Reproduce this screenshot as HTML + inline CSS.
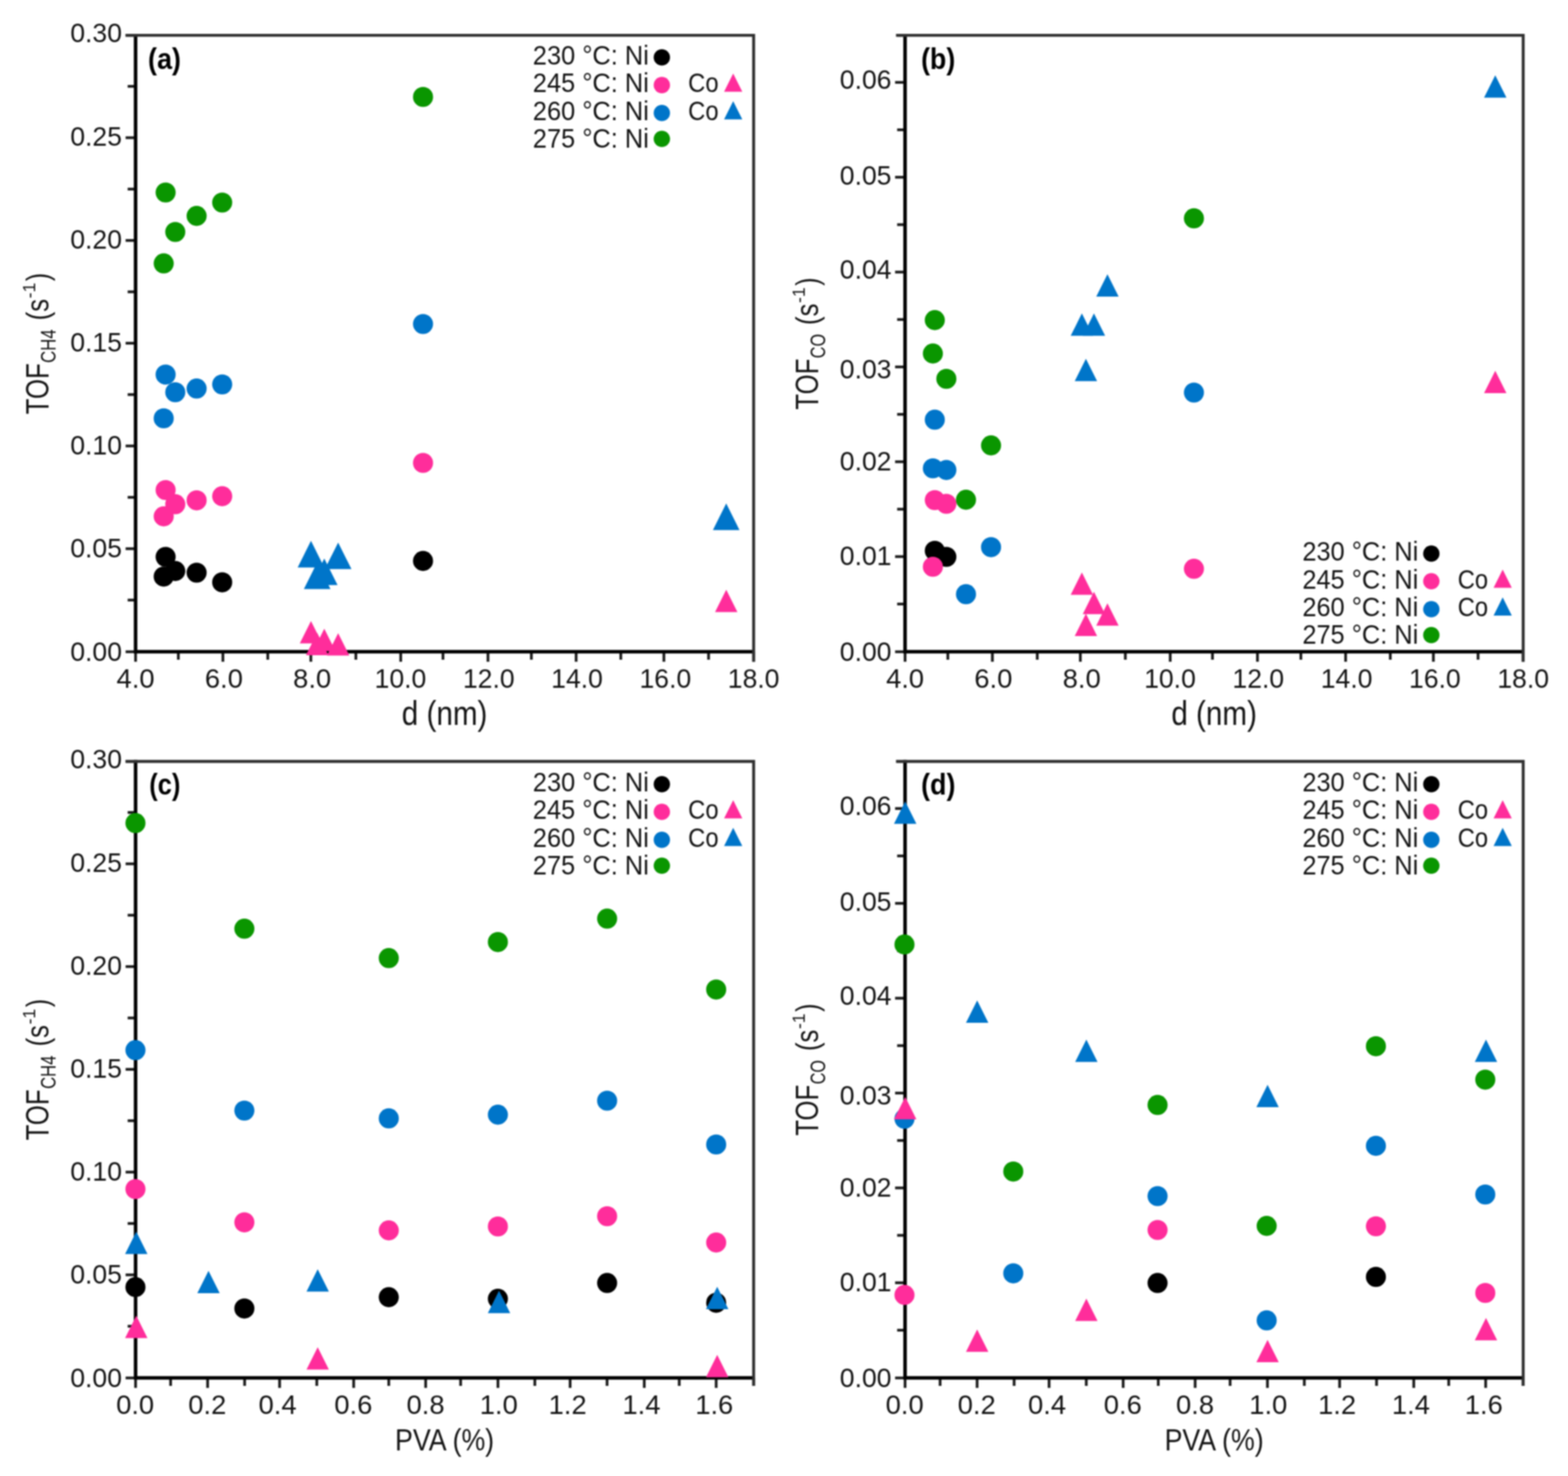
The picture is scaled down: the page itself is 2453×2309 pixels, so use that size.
<!DOCTYPE html>
<html lang="en">
<head>
<meta charset="utf-8">
<title>TOF vs particle size and PVA content</title>
<style>
html,body{margin:0;padding:0;background:#fff;}
body{width:2453px;height:2309px;overflow:hidden;}
svg{display:block;}
text{white-space:pre;}
</style>
</head>
<body>
<svg width="2453" height="2309" viewBox="0 0 2453 2309" font-family='"Liberation Sans", Arial, sans-serif' fill="#141414">
<rect width="2453" height="2309" fill="#fff"/>
<defs><filter id="soft" x="0" y="0" width="100%" height="100%" filterUnits="userSpaceOnUse" color-interpolation-filters="sRGB"><feGaussianBlur stdDeviation="0.9"/></filter></defs>
<g filter="url(#soft)">
<rect width="2453" height="2309" fill="#fff"/>
<g id="panel-a">
<g stroke="#1c1c1c" stroke-width="4.3" fill="none">
<line x1="212.1" y1="1019.6" x2="212.1" y2="1035.2"/>
<line x1="279" y1="1019.6" x2="279" y2="1032"/>
<line x1="348.7" y1="1019.6" x2="348.7" y2="1035.2"/>
<line x1="418.9" y1="1019.6" x2="418.9" y2="1032"/>
<line x1="486.3" y1="1019.6" x2="486.3" y2="1035.2"/>
<line x1="556.7" y1="1019.6" x2="556.7" y2="1032"/>
<line x1="626.9" y1="1019.6" x2="626.9" y2="1035.2"/>
<line x1="693" y1="1019.6" x2="693" y2="1032"/>
<line x1="763.4" y1="1019.6" x2="763.4" y2="1035.2"/>
<line x1="831.3" y1="1019.6" x2="831.3" y2="1032"/>
<line x1="901.3" y1="1019.6" x2="901.3" y2="1035.2"/>
<line x1="971.2" y1="1019.6" x2="971.2" y2="1032"/>
<line x1="1038.6" y1="1019.6" x2="1038.6" y2="1035.2"/>
<line x1="1108.5" y1="1019.6" x2="1108.5" y2="1032"/>
<line x1="1179" y1="1019.6" x2="1179" y2="1035.2"/>
<line x1="196.5" y1="1019.6" x2="212.1" y2="1019.6"/>
<line x1="199.7" y1="938.73" x2="212.1" y2="938.73"/>
<line x1="196.5" y1="858.37" x2="212.1" y2="858.37"/>
<line x1="199.7" y1="778" x2="212.1" y2="778"/>
<line x1="196.5" y1="697.63" x2="212.1" y2="697.63"/>
<line x1="199.7" y1="617.27" x2="212.1" y2="617.27"/>
<line x1="196.5" y1="536.9" x2="212.1" y2="536.9"/>
<line x1="199.7" y1="456.53" x2="212.1" y2="456.53"/>
<line x1="196.5" y1="376.17" x2="212.1" y2="376.17"/>
<line x1="199.7" y1="295.8" x2="212.1" y2="295.8"/>
<line x1="196.5" y1="215.43" x2="212.1" y2="215.43"/>
<line x1="199.7" y1="135.07" x2="212.1" y2="135.07"/>
<line x1="196.5" y1="55.2" x2="212.1" y2="55.2"/>
</g>
<path d="M212.1 52.9V1019.6H1179" stroke="#000" stroke-width="5.5" fill="none" stroke-linejoin="miter"/>
<path d="M196.5 55.2H1179V1035.2" stroke="#303030" stroke-width="4.6" fill="none" stroke-linejoin="miter"/>
<g class="tl">
<text x="212.1" y="1076.4" font-size="42.6" text-anchor="middle" textLength="59.5" lengthAdjust="spacingAndGlyphs">4.0</text>
<text x="350.23" y="1076.4" font-size="42.6" text-anchor="middle" textLength="59.5" lengthAdjust="spacingAndGlyphs">6.0</text>
<text x="488.36" y="1076.4" font-size="42.6" text-anchor="middle" textLength="59.5" lengthAdjust="spacingAndGlyphs">8.0</text>
<text x="626.49" y="1076.4" font-size="42.6" text-anchor="middle" textLength="80.8" lengthAdjust="spacingAndGlyphs">10.0</text>
<text x="764.61" y="1076.4" font-size="42.6" text-anchor="middle" textLength="80.8" lengthAdjust="spacingAndGlyphs">12.0</text>
<text x="902.74" y="1076.4" font-size="42.6" text-anchor="middle" textLength="80.8" lengthAdjust="spacingAndGlyphs">14.0</text>
<text x="1040.87" y="1076.4" font-size="42.6" text-anchor="middle" textLength="80.8" lengthAdjust="spacingAndGlyphs">16.0</text>
<text x="1179" y="1076.4" font-size="42.6" text-anchor="middle" textLength="80.8" lengthAdjust="spacingAndGlyphs">18.0</text>
<text x="190.8" y="1033.5" font-size="42.6" text-anchor="end" textLength="80.8" lengthAdjust="spacingAndGlyphs">0.00</text>
<text x="190.8" y="872.32" font-size="42.6" text-anchor="end" textLength="80.8" lengthAdjust="spacingAndGlyphs">0.05</text>
<text x="190.8" y="711.13" font-size="42.6" text-anchor="end" textLength="80.8" lengthAdjust="spacingAndGlyphs">0.10</text>
<text x="190.8" y="549.95" font-size="42.6" text-anchor="end" textLength="80.8" lengthAdjust="spacingAndGlyphs">0.15</text>
<text x="190.8" y="388.77" font-size="42.6" text-anchor="end" textLength="80.8" lengthAdjust="spacingAndGlyphs">0.20</text>
<text x="190.8" y="227.58" font-size="42.6" text-anchor="end" textLength="80.8" lengthAdjust="spacingAndGlyphs">0.25</text>
<text x="190.8" y="66.4" font-size="42.6" text-anchor="end" textLength="80.8" lengthAdjust="spacingAndGlyphs">0.30</text>
</g>
<text x="695.55" y="1133.6" font-size="53" text-anchor="middle" textLength="134" lengthAdjust="spacingAndGlyphs">d (nm)</text>
<g transform="translate(76.1 646.65) rotate(-90)">
<text font-size="50" text-anchor="start"><tspan x="-1.5" y="0" textLength="80" lengthAdjust="spacingAndGlyphs">TOF</tspan><tspan x="79" y="11.2" font-size="32.5" textLength="52.5" lengthAdjust="spacingAndGlyphs">CH4</tspan><tspan x="145.5" y="0" textLength="33.5" lengthAdjust="spacingAndGlyphs">(s</tspan><tspan x="180" y="-21.4" font-size="28.5" textLength="24.5" lengthAdjust="spacingAndGlyphs">-1</tspan><tspan x="207" y="0" textLength="13" lengthAdjust="spacingAndGlyphs">)</tspan></text>
</g>
<text x="231.6" y="107.5" font-size="45.5" text-anchor="start" font-weight="bold" textLength="51.5" lengthAdjust="spacingAndGlyphs" fill="#000">(a)</text>
<g class="pts">
<circle cx="661.8" cy="877.51" r="15.7" fill="#000000"/>
<circle cx="347.6" cy="910.94" r="15.7" fill="#000000"/>
<circle cx="274.2" cy="893.26" r="15.7" fill="#000000"/>
<circle cx="307.6" cy="895.84" r="15.7" fill="#000000"/>
<circle cx="259.1" cy="871.08" r="15.7" fill="#000000"/>
<circle cx="256.1" cy="901.94" r="15.7" fill="#000000"/>
<circle cx="661.8" cy="724.17" r="15.7" fill="#ff2d9b"/>
<circle cx="347.6" cy="776.25" r="15.7" fill="#ff2d9b"/>
<circle cx="274.2" cy="788.79" r="15.7" fill="#ff2d9b"/>
<circle cx="307.6" cy="782.68" r="15.7" fill="#ff2d9b"/>
<circle cx="259.1" cy="766.61" r="15.7" fill="#ff2d9b"/>
<circle cx="256.1" cy="807.75" r="15.7" fill="#ff2d9b"/>
<circle cx="661.8" cy="506.86" r="15.7" fill="#0075c9"/>
<circle cx="347.6" cy="601.37" r="15.7" fill="#0075c9"/>
<circle cx="274.2" cy="613.59" r="15.7" fill="#0075c9"/>
<circle cx="307.6" cy="607.8" r="15.7" fill="#0075c9"/>
<circle cx="259.1" cy="585.94" r="15.7" fill="#0075c9"/>
<circle cx="256.1" cy="654.41" r="15.7" fill="#0075c9"/>
<circle cx="661.8" cy="151.64" r="15.7" fill="#0a9600"/>
<circle cx="347.6" cy="316.87" r="15.7" fill="#0a9600"/>
<circle cx="274.2" cy="362.84" r="15.7" fill="#0a9600"/>
<circle cx="307.6" cy="337.77" r="15.7" fill="#0a9600"/>
<circle cx="259.1" cy="301.12" r="15.7" fill="#0a9600"/>
<circle cx="256.1" cy="412.03" r="15.7" fill="#0a9600"/>
<polygon points="1136.1,922.38 1153.6,957.38 1118.6,957.38" fill="#ff2d9b"/>
<polygon points="529,990.53 546.5,1025.53 511.5,1025.53" fill="#ff2d9b"/>
<polygon points="486.5,971.56 504,1006.56 469,1006.56" fill="#ff2d9b"/>
<polygon points="496.2,989.88 513.7,1024.88 478.7,1024.88" fill="#ff2d9b"/>
<polygon points="507.3,983.45 524.8,1018.45 489.8,1018.45" fill="#ff2d9b"/>
<polygon points="1136.1,787.6 1156.9,829.2 1115.3,829.2" fill="#0075c9"/>
<polygon points="529,848.68 549.8,890.28 508.2,890.28" fill="#0075c9"/>
<polygon points="486.5,846.1 507.3,887.7 465.7,887.7" fill="#0075c9"/>
<polygon points="496.2,879.86 517,921.46 475.4,921.46" fill="#0075c9"/>
<polygon points="507.3,873.75 528.1,915.35 486.5,915.35" fill="#0075c9"/>
</g>
<g class="lg">
<text x="833.6" y="101.1" font-size="43" text-anchor="start" textLength="181.5" lengthAdjust="spacingAndGlyphs">230 °C: Ni</text>
<circle cx="1035.4" cy="89.8" r="12.8" fill="#000000"/>
<text x="833.6" y="144.43" font-size="43" text-anchor="start" textLength="181.5" lengthAdjust="spacingAndGlyphs">245 °C: Ni</text>
<circle cx="1035.4" cy="133.1" r="12.8" fill="#ff2d9b"/>
<text x="1076.6" y="144.43" font-size="43" text-anchor="start" textLength="47.5" lengthAdjust="spacingAndGlyphs">Co</text>
<polygon points="1147,114.88 1161.25,143.38 1132.75,143.38" fill="#ff2d9b"/>
<text x="833.6" y="187.76" font-size="43" text-anchor="start" textLength="181.5" lengthAdjust="spacingAndGlyphs">260 °C: Ni</text>
<circle cx="1035.4" cy="176.8" r="12.8" fill="#0075c9"/>
<text x="1076.6" y="187.76" font-size="43" text-anchor="start" textLength="47.5" lengthAdjust="spacingAndGlyphs">Co</text>
<polygon points="1147,158.21 1161.25,186.71 1132.75,186.71" fill="#0075c9"/>
<text x="833.6" y="231.09" font-size="43" text-anchor="start" textLength="181.5" lengthAdjust="spacingAndGlyphs">275 °C: Ni</text>
<circle cx="1035.4" cy="217.3" r="12.8" fill="#0a9600"/>
</g>
</g>
<g id="panel-b">
<g stroke="#1c1c1c" stroke-width="4.3" fill="none">
<line x1="1415.9" y1="1019.6" x2="1415.9" y2="1035.2"/>
<line x1="1482.8" y1="1019.6" x2="1482.8" y2="1032"/>
<line x1="1552.5" y1="1019.6" x2="1552.5" y2="1035.2"/>
<line x1="1622.7" y1="1019.6" x2="1622.7" y2="1032"/>
<line x1="1690.1" y1="1019.6" x2="1690.1" y2="1035.2"/>
<line x1="1760.5" y1="1019.6" x2="1760.5" y2="1032"/>
<line x1="1830.7" y1="1019.6" x2="1830.7" y2="1035.2"/>
<line x1="1896.8" y1="1019.6" x2="1896.8" y2="1032"/>
<line x1="1967.2" y1="1019.6" x2="1967.2" y2="1035.2"/>
<line x1="2035.1" y1="1019.6" x2="2035.1" y2="1032"/>
<line x1="2105.1" y1="1019.6" x2="2105.1" y2="1035.2"/>
<line x1="2175" y1="1019.6" x2="2175" y2="1032"/>
<line x1="2242.4" y1="1019.6" x2="2242.4" y2="1035.2"/>
<line x1="2312.3" y1="1019.6" x2="2312.3" y2="1032"/>
<line x1="2382.8" y1="1019.6" x2="2382.8" y2="1035.2"/>
<line x1="1400.3" y1="1019.6" x2="1415.9" y2="1019.6"/>
<line x1="1403.5" y1="944.92" x2="1415.9" y2="944.92"/>
<line x1="1400.3" y1="870.73" x2="1415.9" y2="870.73"/>
<line x1="1403.5" y1="796.55" x2="1415.9" y2="796.55"/>
<line x1="1400.3" y1="722.36" x2="1415.9" y2="722.36"/>
<line x1="1403.5" y1="648.18" x2="1415.9" y2="648.18"/>
<line x1="1400.3" y1="573.99" x2="1415.9" y2="573.99"/>
<line x1="1403.5" y1="499.81" x2="1415.9" y2="499.81"/>
<line x1="1400.3" y1="425.62" x2="1415.9" y2="425.62"/>
<line x1="1403.5" y1="351.44" x2="1415.9" y2="351.44"/>
<line x1="1400.3" y1="277.25" x2="1415.9" y2="277.25"/>
<line x1="1403.5" y1="203.07" x2="1415.9" y2="203.07"/>
<line x1="1400.3" y1="128.88" x2="1415.9" y2="128.88"/>
<line x1="1403.5" y1="55.2" x2="1415.9" y2="55.2"/>
</g>
<path d="M1415.9 52.9V1019.6H2382.9" stroke="#000" stroke-width="5.5" fill="none" stroke-linejoin="miter"/>
<path d="M1401.7 55.2H2382.9V1035.2" stroke="#303030" stroke-width="4.6" fill="none" stroke-linejoin="miter"/>
<g class="tl">
<text x="1415.9" y="1076.4" font-size="42.6" text-anchor="middle" textLength="59.5" lengthAdjust="spacingAndGlyphs">4.0</text>
<text x="1554.04" y="1076.4" font-size="42.6" text-anchor="middle" textLength="59.5" lengthAdjust="spacingAndGlyphs">6.0</text>
<text x="1692.19" y="1076.4" font-size="42.6" text-anchor="middle" textLength="59.5" lengthAdjust="spacingAndGlyphs">8.0</text>
<text x="1830.33" y="1076.4" font-size="42.6" text-anchor="middle" textLength="80.8" lengthAdjust="spacingAndGlyphs">10.0</text>
<text x="1968.47" y="1076.4" font-size="42.6" text-anchor="middle" textLength="80.8" lengthAdjust="spacingAndGlyphs">12.0</text>
<text x="2106.61" y="1076.4" font-size="42.6" text-anchor="middle" textLength="80.8" lengthAdjust="spacingAndGlyphs">14.0</text>
<text x="2244.76" y="1076.4" font-size="42.6" text-anchor="middle" textLength="80.8" lengthAdjust="spacingAndGlyphs">16.0</text>
<text x="2382.9" y="1076.4" font-size="42.6" text-anchor="middle" textLength="80.8" lengthAdjust="spacingAndGlyphs">18.0</text>
<text x="1394.6" y="1033.6" font-size="42.6" text-anchor="end" textLength="80.8" lengthAdjust="spacingAndGlyphs">0.00</text>
<text x="1394.6" y="884.38" font-size="42.6" text-anchor="end" textLength="80.8" lengthAdjust="spacingAndGlyphs">0.01</text>
<text x="1394.6" y="736.46" font-size="42.6" text-anchor="end" textLength="80.8" lengthAdjust="spacingAndGlyphs">0.02</text>
<text x="1394.6" y="592.34" font-size="42.6" text-anchor="end" textLength="80.8" lengthAdjust="spacingAndGlyphs">0.03</text>
<text x="1394.6" y="436.12" font-size="42.6" text-anchor="end" textLength="80.8" lengthAdjust="spacingAndGlyphs">0.04</text>
<text x="1394.6" y="288.7" font-size="42.6" text-anchor="end" textLength="80.8" lengthAdjust="spacingAndGlyphs">0.05</text>
<text x="1394.6" y="139.28" font-size="42.6" text-anchor="end" textLength="80.8" lengthAdjust="spacingAndGlyphs">0.06</text>
</g>
<text x="1899.4" y="1133.6" font-size="53" text-anchor="middle" textLength="134" lengthAdjust="spacingAndGlyphs">d (nm)</text>
<g transform="translate(1279.9 639.4) rotate(-90)">
<text font-size="50" text-anchor="start"><tspan x="-1.5" y="0" textLength="80" lengthAdjust="spacingAndGlyphs">TOF</tspan><tspan x="79" y="11.2" font-size="32.5" textLength="38" lengthAdjust="spacingAndGlyphs">CO</tspan><tspan x="131" y="0" textLength="33.5" lengthAdjust="spacingAndGlyphs">(s</tspan><tspan x="165.5" y="-21.4" font-size="28.5" textLength="24.5" lengthAdjust="spacingAndGlyphs">-1</tspan><tspan x="192.5" y="0" textLength="13" lengthAdjust="spacingAndGlyphs">)</tspan></text>
</g>
<text x="1440.9" y="107.5" font-size="45.5" text-anchor="start" font-weight="bold" textLength="53.5" lengthAdjust="spacingAndGlyphs" fill="#000">(b)</text>
<g class="pts">
<circle cx="1480.5" cy="871.08" r="15.7" fill="#000000"/>
<circle cx="1462.4" cy="861.59" r="15.7" fill="#000000"/>
<circle cx="1867.8" cy="889.78" r="15.7" fill="#ff2d9b"/>
<circle cx="1480.5" cy="788.14" r="15.7" fill="#ff2d9b"/>
<circle cx="1462.4" cy="782.36" r="15.7" fill="#ff2d9b"/>
<circle cx="1459.4" cy="886.66" r="15.7" fill="#ff2d9b"/>
<circle cx="1867.8" cy="614.11" r="15.7" fill="#0075c9"/>
<circle cx="1550.4" cy="855.95" r="15.7" fill="#0075c9"/>
<circle cx="1480.5" cy="735.18" r="15.7" fill="#0075c9"/>
<circle cx="1511.2" cy="929.54" r="15.7" fill="#0075c9"/>
<circle cx="1462.4" cy="656.54" r="15.7" fill="#0075c9"/>
<circle cx="1459.4" cy="732.65" r="15.7" fill="#0075c9"/>
<circle cx="1867.8" cy="341.55" r="15.7" fill="#0a9600"/>
<circle cx="1550.4" cy="696.75" r="15.7" fill="#0a9600"/>
<circle cx="1480.5" cy="592.59" r="15.7" fill="#0a9600"/>
<circle cx="1511.2" cy="781.76" r="15.7" fill="#0a9600"/>
<circle cx="1462.4" cy="500.75" r="15.7" fill="#0a9600"/>
<circle cx="1459.4" cy="552.98" r="15.7" fill="#0a9600"/>
<polygon points="2339.2,579.99 2356.7,614.99 2321.7,614.99" fill="#ff2d9b"/>
<polygon points="1732.5,943.79 1750,978.79 1715,978.79" fill="#ff2d9b"/>
<polygon points="1692.5,895.42 1710,930.42 1675,930.42" fill="#ff2d9b"/>
<polygon points="1698.8,960.11 1716.3,995.11 1681.3,995.11" fill="#ff2d9b"/>
<polygon points="1711.4,925.84 1728.9,960.84 1693.9,960.84" fill="#ff2d9b"/>
<polygon points="2339.2,117.82 2356.7,152.82 2321.7,152.82" fill="#0075c9"/>
<polygon points="1732.5,429.1 1750,464.1 1715,464.1" fill="#0075c9"/>
<polygon points="1692.5,490.37 1710,525.37 1675,525.37" fill="#0075c9"/>
<polygon points="1698.8,561.15 1716.3,596.15 1681.3,596.15" fill="#0075c9"/>
<polygon points="1711.4,490.37 1728.9,525.37 1693.9,525.37" fill="#0075c9"/>
</g>
<g class="lg">
<text x="2037.4" y="877.3" font-size="43" text-anchor="start" textLength="181.5" lengthAdjust="spacingAndGlyphs">230 °C: Ni</text>
<circle cx="2239.2" cy="866" r="12.8" fill="#000000"/>
<text x="2037.4" y="920.63" font-size="43" text-anchor="start" textLength="181.5" lengthAdjust="spacingAndGlyphs">245 °C: Ni</text>
<circle cx="2239.2" cy="909.3" r="12.8" fill="#ff2d9b"/>
<text x="2280.4" y="920.63" font-size="43" text-anchor="start" textLength="47.5" lengthAdjust="spacingAndGlyphs">Co</text>
<polygon points="2350.8,891.08 2365.05,919.58 2336.55,919.58" fill="#ff2d9b"/>
<text x="2037.4" y="963.96" font-size="43" text-anchor="start" textLength="181.5" lengthAdjust="spacingAndGlyphs">260 °C: Ni</text>
<circle cx="2239.2" cy="953" r="12.8" fill="#0075c9"/>
<text x="2280.4" y="963.96" font-size="43" text-anchor="start" textLength="47.5" lengthAdjust="spacingAndGlyphs">Co</text>
<polygon points="2350.8,934.41 2365.05,962.91 2336.55,962.91" fill="#0075c9"/>
<text x="2037.4" y="1007.29" font-size="43" text-anchor="start" textLength="181.5" lengthAdjust="spacingAndGlyphs">275 °C: Ni</text>
<circle cx="2239.2" cy="993.5" r="12.8" fill="#0a9600"/>
</g>
</g>
<g id="panel-c">
<g stroke="#1c1c1c" stroke-width="4.3" fill="none">
<line x1="212.1" y1="2155.6" x2="212.1" y2="2171.2"/>
<line x1="266.9" y1="2155.6" x2="266.9" y2="2168"/>
<line x1="324.8" y1="2155.6" x2="324.8" y2="2171.2"/>
<line x1="382.7" y1="2155.6" x2="382.7" y2="2168"/>
<line x1="437.4" y1="2155.6" x2="437.4" y2="2171.2"/>
<line x1="495.6" y1="2155.6" x2="495.6" y2="2168"/>
<line x1="553.3" y1="2155.6" x2="553.3" y2="2171.2"/>
<line x1="608.2" y1="2155.6" x2="608.2" y2="2168"/>
<line x1="665.9" y1="2155.6" x2="665.9" y2="2171.2"/>
<line x1="720.6" y1="2155.6" x2="720.6" y2="2168"/>
<line x1="779" y1="2155.6" x2="779" y2="2171.2"/>
<line x1="836.7" y1="2155.6" x2="836.7" y2="2168"/>
<line x1="891.9" y1="2155.6" x2="891.9" y2="2171.2"/>
<line x1="949.7" y1="2155.6" x2="949.7" y2="2168"/>
<line x1="1007.9" y1="2155.6" x2="1007.9" y2="2171.2"/>
<line x1="1062.6" y1="2155.6" x2="1062.6" y2="2168"/>
<line x1="1120.4" y1="2155.6" x2="1120.4" y2="2171.2"/>
<line x1="1179" y1="2155.6" x2="1179" y2="2168"/>
<line x1="196.5" y1="2155.6" x2="212.1" y2="2155.6"/>
<line x1="199.7" y1="2074.72" x2="212.1" y2="2074.72"/>
<line x1="196.5" y1="1994.35" x2="212.1" y2="1994.35"/>
<line x1="199.7" y1="1913.97" x2="212.1" y2="1913.97"/>
<line x1="196.5" y1="1833.6" x2="212.1" y2="1833.6"/>
<line x1="199.7" y1="1753.22" x2="212.1" y2="1753.22"/>
<line x1="196.5" y1="1672.85" x2="212.1" y2="1672.85"/>
<line x1="199.7" y1="1592.47" x2="212.1" y2="1592.47"/>
<line x1="196.5" y1="1512.1" x2="212.1" y2="1512.1"/>
<line x1="199.7" y1="1431.72" x2="212.1" y2="1431.72"/>
<line x1="196.5" y1="1351.35" x2="212.1" y2="1351.35"/>
<line x1="199.7" y1="1270.97" x2="212.1" y2="1270.97"/>
<line x1="196.5" y1="1191.1" x2="212.1" y2="1191.1"/>
</g>
<path d="M212.1 1188.8V2155.6H1179" stroke="#000" stroke-width="5.5" fill="none" stroke-linejoin="miter"/>
<path d="M196.5 1191.1H1179V2168" stroke="#303030" stroke-width="4.6" fill="none" stroke-linejoin="miter"/>
<g class="tl">
<text x="211.4" y="2212.4" font-size="42.6" text-anchor="middle" textLength="59.5" lengthAdjust="spacingAndGlyphs">0.0</text>
<text x="324.2" y="2212.4" font-size="42.6" text-anchor="middle" textLength="59.5" lengthAdjust="spacingAndGlyphs">0.2</text>
<text x="434.2" y="2212.4" font-size="42.6" text-anchor="middle" textLength="59.5" lengthAdjust="spacingAndGlyphs">0.4</text>
<text x="552.7" y="2212.4" font-size="42.6" text-anchor="middle" textLength="59.5" lengthAdjust="spacingAndGlyphs">0.6</text>
<text x="665.7" y="2212.4" font-size="42.6" text-anchor="middle" textLength="59.5" lengthAdjust="spacingAndGlyphs">0.8</text>
<text x="780.3" y="2212.4" font-size="42.6" text-anchor="middle" textLength="59.5" lengthAdjust="spacingAndGlyphs">1.0</text>
<text x="888" y="2212.4" font-size="42.6" text-anchor="middle" textLength="59.5" lengthAdjust="spacingAndGlyphs">1.2</text>
<text x="1003.5" y="2212.4" font-size="42.6" text-anchor="middle" textLength="59.5" lengthAdjust="spacingAndGlyphs">1.4</text>
<text x="1117.4" y="2212.4" font-size="42.6" text-anchor="middle" textLength="59.5" lengthAdjust="spacingAndGlyphs">1.6</text>
<text x="190.8" y="2169.5" font-size="42.6" text-anchor="end" textLength="80.8" lengthAdjust="spacingAndGlyphs">0.00</text>
<text x="190.8" y="2008.3" font-size="42.6" text-anchor="end" textLength="80.8" lengthAdjust="spacingAndGlyphs">0.05</text>
<text x="190.8" y="1847.1" font-size="42.6" text-anchor="end" textLength="80.8" lengthAdjust="spacingAndGlyphs">0.10</text>
<text x="190.8" y="1685.9" font-size="42.6" text-anchor="end" textLength="80.8" lengthAdjust="spacingAndGlyphs">0.15</text>
<text x="190.8" y="1524.7" font-size="42.6" text-anchor="end" textLength="80.8" lengthAdjust="spacingAndGlyphs">0.20</text>
<text x="190.8" y="1363.5" font-size="42.6" text-anchor="end" textLength="80.8" lengthAdjust="spacingAndGlyphs">0.25</text>
<text x="190.8" y="1202.3" font-size="42.6" text-anchor="end" textLength="80.8" lengthAdjust="spacingAndGlyphs">0.30</text>
</g>
<text x="695.55" y="2269" font-size="47.5" text-anchor="middle" textLength="155" lengthAdjust="spacingAndGlyphs">PVA (%)</text>
<g transform="translate(76.1 1782.6) rotate(-90)">
<text font-size="50" text-anchor="start"><tspan x="-1.5" y="0" textLength="80" lengthAdjust="spacingAndGlyphs">TOF</tspan><tspan x="79" y="11.2" font-size="32.5" textLength="52.5" lengthAdjust="spacingAndGlyphs">CH4</tspan><tspan x="145.5" y="0" textLength="33.5" lengthAdjust="spacingAndGlyphs">(s</tspan><tspan x="180" y="-21.4" font-size="28.5" textLength="24.5" lengthAdjust="spacingAndGlyphs">-1</tspan><tspan x="207" y="0" textLength="13" lengthAdjust="spacingAndGlyphs">)</tspan></text>
</g>
<text x="233.6" y="1243.4" font-size="45.5" text-anchor="start" font-weight="bold" textLength="48.5" lengthAdjust="spacingAndGlyphs" fill="#000">(c)</text>
<g class="pts">
<circle cx="211.9" cy="2013.5" r="15.7" fill="#000000"/>
<circle cx="382.3" cy="2046.93" r="15.7" fill="#000000"/>
<circle cx="608.2" cy="2029.25" r="15.7" fill="#000000"/>
<circle cx="778.9" cy="2031.82" r="15.7" fill="#000000"/>
<circle cx="949.8" cy="2007.07" r="15.7" fill="#000000"/>
<circle cx="1120.4" cy="2037.93" r="15.7" fill="#000000"/>
<circle cx="211.9" cy="1860.14" r="15.7" fill="#ff2d9b"/>
<circle cx="382.3" cy="1912.22" r="15.7" fill="#ff2d9b"/>
<circle cx="608.2" cy="1924.76" r="15.7" fill="#ff2d9b"/>
<circle cx="778.9" cy="1918.65" r="15.7" fill="#ff2d9b"/>
<circle cx="949.8" cy="1902.58" r="15.7" fill="#ff2d9b"/>
<circle cx="1120.4" cy="1943.73" r="15.7" fill="#ff2d9b"/>
<circle cx="211.9" cy="1642.81" r="15.7" fill="#0075c9"/>
<circle cx="382.3" cy="1737.33" r="15.7" fill="#0075c9"/>
<circle cx="608.2" cy="1749.55" r="15.7" fill="#0075c9"/>
<circle cx="778.9" cy="1743.76" r="15.7" fill="#0075c9"/>
<circle cx="949.8" cy="1721.9" r="15.7" fill="#0075c9"/>
<circle cx="1120.4" cy="1790.38" r="15.7" fill="#0075c9"/>
<circle cx="211.9" cy="1287.55" r="15.7" fill="#0a9600"/>
<circle cx="382.3" cy="1452.8" r="15.7" fill="#0a9600"/>
<circle cx="608.2" cy="1498.78" r="15.7" fill="#0a9600"/>
<circle cx="778.9" cy="1473.7" r="15.7" fill="#0a9600"/>
<circle cx="949.8" cy="1437.05" r="15.7" fill="#0a9600"/>
<circle cx="1120.4" cy="1547.96" r="15.7" fill="#0a9600"/>
<polygon points="213.2,2058.37 230.7,2093.37 195.7,2093.37" fill="#ff2d9b"/>
<polygon points="497,2107.56 514.5,2142.56 479.5,2142.56" fill="#ff2d9b"/>
<polygon points="1122,2119.45 1139.5,2154.45 1104.5,2154.45" fill="#ff2d9b"/>
<polygon points="213.2,1926.87 230.7,1961.87 195.7,1961.87" fill="#0075c9"/>
<polygon points="326.2,1987.96 343.7,2022.96 308.7,2022.96" fill="#0075c9"/>
<polygon points="497,1985.39 514.5,2020.39 479.5,2020.39" fill="#0075c9"/>
<polygon points="780.7,2019.14 798.2,2054.14 763.2,2054.14" fill="#0075c9"/>
<polygon points="1122,2013.04 1139.5,2048.04 1104.5,2048.04" fill="#0075c9"/>
</g>
<g class="lg">
<text x="833.6" y="1238" font-size="43" text-anchor="start" textLength="181.5" lengthAdjust="spacingAndGlyphs">230 °C: Ni</text>
<circle cx="1035.4" cy="1226.7" r="12.8" fill="#000000"/>
<text x="833.6" y="1281.33" font-size="43" text-anchor="start" textLength="181.5" lengthAdjust="spacingAndGlyphs">245 °C: Ni</text>
<circle cx="1035.4" cy="1270" r="12.8" fill="#ff2d9b"/>
<text x="1076.6" y="1281.33" font-size="43" text-anchor="start" textLength="47.5" lengthAdjust="spacingAndGlyphs">Co</text>
<polygon points="1147,1251.78 1161.25,1280.28 1132.75,1280.28" fill="#ff2d9b"/>
<text x="833.6" y="1324.66" font-size="43" text-anchor="start" textLength="181.5" lengthAdjust="spacingAndGlyphs">260 °C: Ni</text>
<circle cx="1035.4" cy="1313.7" r="12.8" fill="#0075c9"/>
<text x="1076.6" y="1324.66" font-size="43" text-anchor="start" textLength="47.5" lengthAdjust="spacingAndGlyphs">Co</text>
<polygon points="1147,1295.11 1161.25,1323.61 1132.75,1323.61" fill="#0075c9"/>
<text x="833.6" y="1367.99" font-size="43" text-anchor="start" textLength="181.5" lengthAdjust="spacingAndGlyphs">275 °C: Ni</text>
<circle cx="1035.4" cy="1354.2" r="12.8" fill="#0a9600"/>
</g>
</g>
<g id="panel-d">
<g stroke="#1c1c1c" stroke-width="4.3" fill="none">
<line x1="1415.9" y1="2155.6" x2="1415.9" y2="2171.2"/>
<line x1="1470.7" y1="2155.6" x2="1470.7" y2="2168"/>
<line x1="1528.6" y1="2155.6" x2="1528.6" y2="2171.2"/>
<line x1="1586.5" y1="2155.6" x2="1586.5" y2="2168"/>
<line x1="1641.2" y1="2155.6" x2="1641.2" y2="2171.2"/>
<line x1="1699.4" y1="2155.6" x2="1699.4" y2="2168"/>
<line x1="1757.1" y1="2155.6" x2="1757.1" y2="2171.2"/>
<line x1="1812" y1="2155.6" x2="1812" y2="2168"/>
<line x1="1869.7" y1="2155.6" x2="1869.7" y2="2171.2"/>
<line x1="1924.4" y1="2155.6" x2="1924.4" y2="2168"/>
<line x1="1982.8" y1="2155.6" x2="1982.8" y2="2171.2"/>
<line x1="2040.5" y1="2155.6" x2="2040.5" y2="2168"/>
<line x1="2095.7" y1="2155.6" x2="2095.7" y2="2171.2"/>
<line x1="2153.5" y1="2155.6" x2="2153.5" y2="2168"/>
<line x1="2211.7" y1="2155.6" x2="2211.7" y2="2171.2"/>
<line x1="2266.4" y1="2155.6" x2="2266.4" y2="2168"/>
<line x1="2324.2" y1="2155.6" x2="2324.2" y2="2171.2"/>
<line x1="2382.8" y1="2155.6" x2="2382.8" y2="2168"/>
<line x1="1400.3" y1="2155.6" x2="1415.9" y2="2155.6"/>
<line x1="1403.5" y1="2080.91" x2="1415.9" y2="2080.91"/>
<line x1="1400.3" y1="2006.72" x2="1415.9" y2="2006.72"/>
<line x1="1403.5" y1="1932.52" x2="1415.9" y2="1932.52"/>
<line x1="1400.3" y1="1858.33" x2="1415.9" y2="1858.33"/>
<line x1="1403.5" y1="1784.14" x2="1415.9" y2="1784.14"/>
<line x1="1400.3" y1="1709.95" x2="1415.9" y2="1709.95"/>
<line x1="1403.5" y1="1635.75" x2="1415.9" y2="1635.75"/>
<line x1="1400.3" y1="1561.56" x2="1415.9" y2="1561.56"/>
<line x1="1403.5" y1="1487.37" x2="1415.9" y2="1487.37"/>
<line x1="1400.3" y1="1413.18" x2="1415.9" y2="1413.18"/>
<line x1="1403.5" y1="1338.98" x2="1415.9" y2="1338.98"/>
<line x1="1400.3" y1="1264.79" x2="1415.9" y2="1264.79"/>
<line x1="1403.5" y1="1191.1" x2="1415.9" y2="1191.1"/>
</g>
<path d="M1415.9 1188.8V2155.6H2382.9" stroke="#000" stroke-width="5.5" fill="none" stroke-linejoin="miter"/>
<path d="M1401.7 1191.1H2382.9V2168" stroke="#303030" stroke-width="4.6" fill="none" stroke-linejoin="miter"/>
<g class="tl">
<text x="1415.2" y="2212.4" font-size="42.6" text-anchor="middle" textLength="59.5" lengthAdjust="spacingAndGlyphs">0.0</text>
<text x="1528" y="2212.4" font-size="42.6" text-anchor="middle" textLength="59.5" lengthAdjust="spacingAndGlyphs">0.2</text>
<text x="1638" y="2212.4" font-size="42.6" text-anchor="middle" textLength="59.5" lengthAdjust="spacingAndGlyphs">0.4</text>
<text x="1756.5" y="2212.4" font-size="42.6" text-anchor="middle" textLength="59.5" lengthAdjust="spacingAndGlyphs">0.6</text>
<text x="1869.5" y="2212.4" font-size="42.6" text-anchor="middle" textLength="59.5" lengthAdjust="spacingAndGlyphs">0.8</text>
<text x="1984.1" y="2212.4" font-size="42.6" text-anchor="middle" textLength="59.5" lengthAdjust="spacingAndGlyphs">1.0</text>
<text x="2091.8" y="2212.4" font-size="42.6" text-anchor="middle" textLength="59.5" lengthAdjust="spacingAndGlyphs">1.2</text>
<text x="2207.3" y="2212.4" font-size="42.6" text-anchor="middle" textLength="59.5" lengthAdjust="spacingAndGlyphs">1.4</text>
<text x="2321.2" y="2212.4" font-size="42.6" text-anchor="middle" textLength="59.5" lengthAdjust="spacingAndGlyphs">1.6</text>
<text x="1394.6" y="2169.6" font-size="42.6" text-anchor="end" textLength="80.8" lengthAdjust="spacingAndGlyphs">0.00</text>
<text x="1394.6" y="2020.37" font-size="42.6" text-anchor="end" textLength="80.8" lengthAdjust="spacingAndGlyphs">0.01</text>
<text x="1394.6" y="1872.43" font-size="42.6" text-anchor="end" textLength="80.8" lengthAdjust="spacingAndGlyphs">0.02</text>
<text x="1394.6" y="1728.3" font-size="42.6" text-anchor="end" textLength="80.8" lengthAdjust="spacingAndGlyphs">0.03</text>
<text x="1394.6" y="1572.06" font-size="42.6" text-anchor="end" textLength="80.8" lengthAdjust="spacingAndGlyphs">0.04</text>
<text x="1394.6" y="1424.63" font-size="42.6" text-anchor="end" textLength="80.8" lengthAdjust="spacingAndGlyphs">0.05</text>
<text x="1394.6" y="1275.19" font-size="42.6" text-anchor="end" textLength="80.8" lengthAdjust="spacingAndGlyphs">0.06</text>
</g>
<text x="1899.4" y="2269" font-size="47.5" text-anchor="middle" textLength="155" lengthAdjust="spacingAndGlyphs">PVA (%)</text>
<g transform="translate(1279.9 1775.35) rotate(-90)">
<text font-size="50" text-anchor="start"><tspan x="-1.5" y="0" textLength="80" lengthAdjust="spacingAndGlyphs">TOF</tspan><tspan x="79" y="11.2" font-size="32.5" textLength="38" lengthAdjust="spacingAndGlyphs">CO</tspan><tspan x="131" y="0" textLength="33.5" lengthAdjust="spacingAndGlyphs">(s</tspan><tspan x="165.5" y="-21.4" font-size="28.5" textLength="24.5" lengthAdjust="spacingAndGlyphs">-1</tspan><tspan x="192.5" y="0" textLength="13" lengthAdjust="spacingAndGlyphs">)</tspan></text>
</g>
<text x="1441.1" y="1243.4" font-size="45.5" text-anchor="start" font-weight="bold" textLength="53.5" lengthAdjust="spacingAndGlyphs" fill="#000">(d)</text>
<g class="pts">
<circle cx="1810.9" cy="2007.07" r="15.7" fill="#000000"/>
<circle cx="2152.5" cy="1997.57" r="15.7" fill="#000000"/>
<circle cx="1415" cy="2025.76" r="15.7" fill="#ff2d9b"/>
<circle cx="1810.9" cy="1924.12" r="15.7" fill="#ff2d9b"/>
<circle cx="2152.5" cy="1918.33" r="15.7" fill="#ff2d9b"/>
<circle cx="2323.6" cy="2022.65" r="15.7" fill="#ff2d9b"/>
<circle cx="1415" cy="1750.06" r="15.7" fill="#0075c9"/>
<circle cx="1585.2" cy="1991.93" r="15.7" fill="#0075c9"/>
<circle cx="1810.9" cy="1871.15" r="15.7" fill="#0075c9"/>
<circle cx="1981.6" cy="2065.53" r="15.7" fill="#0075c9"/>
<circle cx="2152.5" cy="1792.5" r="15.7" fill="#0075c9"/>
<circle cx="2323.6" cy="1868.62" r="15.7" fill="#0075c9"/>
<circle cx="1415" cy="1477.48" r="15.7" fill="#0a9600"/>
<circle cx="1585.2" cy="1832.72" r="15.7" fill="#0a9600"/>
<circle cx="1810.9" cy="1728.55" r="15.7" fill="#0a9600"/>
<circle cx="1981.6" cy="1917.74" r="15.7" fill="#0a9600"/>
<circle cx="2152.5" cy="1636.7" r="15.7" fill="#0a9600"/>
<circle cx="2323.6" cy="1688.93" r="15.7" fill="#0a9600"/>
<polygon points="1416.1,1715.95 1433.6,1750.95 1398.6,1750.95" fill="#ff2d9b"/>
<polygon points="1528.7,2079.78 1546.2,2114.78 1511.2,2114.78" fill="#ff2d9b"/>
<polygon points="1699.5,2031.41 1717,2066.41 1682,2066.41" fill="#ff2d9b"/>
<polygon points="1983,2096.11 2000.5,2131.11 1965.5,2131.11" fill="#ff2d9b"/>
<polygon points="2324.7,2061.83 2342.2,2096.83 2307.2,2096.83" fill="#ff2d9b"/>
<polygon points="1416.1,1253.73 1433.6,1288.73 1398.6,1288.73" fill="#0075c9"/>
<polygon points="1528.7,1565.04 1546.2,1600.04 1511.2,1600.04" fill="#0075c9"/>
<polygon points="1699.5,1626.32 1717,1661.32 1682,1661.32" fill="#0075c9"/>
<polygon points="1983,1697.1 2000.5,1732.1 1965.5,1732.1" fill="#0075c9"/>
<polygon points="2324.7,1626.32 2342.2,1661.32 2307.2,1661.32" fill="#0075c9"/>
</g>
<g class="lg">
<text x="2037.4" y="1238" font-size="43" text-anchor="start" textLength="181.5" lengthAdjust="spacingAndGlyphs">230 °C: Ni</text>
<circle cx="2239.2" cy="1226.7" r="12.8" fill="#000000"/>
<text x="2037.4" y="1281.33" font-size="43" text-anchor="start" textLength="181.5" lengthAdjust="spacingAndGlyphs">245 °C: Ni</text>
<circle cx="2239.2" cy="1270" r="12.8" fill="#ff2d9b"/>
<text x="2280.4" y="1281.33" font-size="43" text-anchor="start" textLength="47.5" lengthAdjust="spacingAndGlyphs">Co</text>
<polygon points="2350.8,1251.78 2365.05,1280.28 2336.55,1280.28" fill="#ff2d9b"/>
<text x="2037.4" y="1324.66" font-size="43" text-anchor="start" textLength="181.5" lengthAdjust="spacingAndGlyphs">260 °C: Ni</text>
<circle cx="2239.2" cy="1313.7" r="12.8" fill="#0075c9"/>
<text x="2280.4" y="1324.66" font-size="43" text-anchor="start" textLength="47.5" lengthAdjust="spacingAndGlyphs">Co</text>
<polygon points="2350.8,1295.11 2365.05,1323.61 2336.55,1323.61" fill="#0075c9"/>
<text x="2037.4" y="1367.99" font-size="43" text-anchor="start" textLength="181.5" lengthAdjust="spacingAndGlyphs">275 °C: Ni</text>
<circle cx="2239.2" cy="1354.2" r="12.8" fill="#0a9600"/>
</g>
</g>
</g>
</svg>
</body>
</html>
